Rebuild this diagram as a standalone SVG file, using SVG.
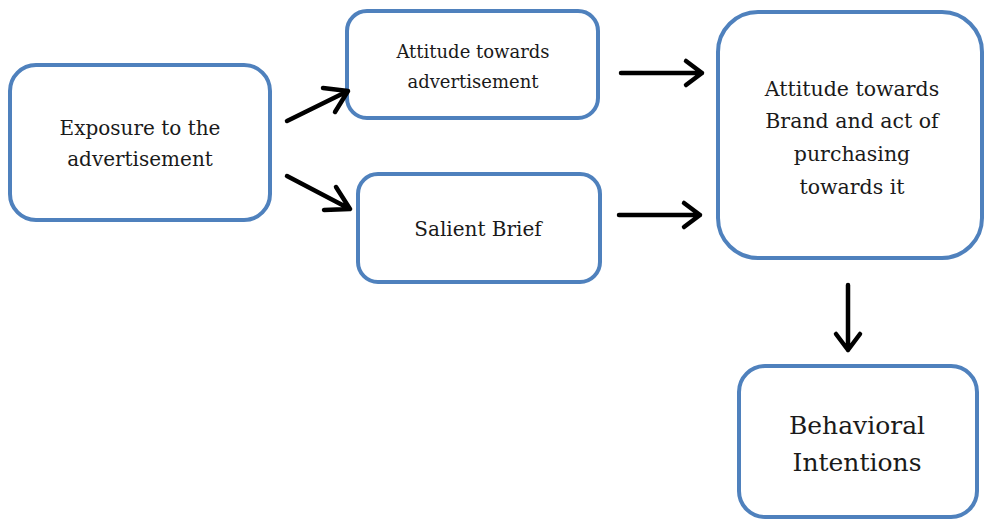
<svg xmlns="http://www.w3.org/2000/svg" width="984" height="520" viewBox="0 0 984 520">
<defs>
<style>
.box{fill:#fff;stroke:#4F81BD;stroke-width:4}
.t{font-family:"DejaVu Serif","Liberation Serif",serif;fill:#1a1a1a;text-anchor:middle}
.c{stroke:#000;stroke-width:4.5;fill:none;stroke-linecap:round;stroke-linejoin:round}
</style>
</defs>
<rect width="984" height="520" fill="#fff"/>
<g id="n1"><rect class="box" x="10" y="65" width="260" height="155" rx="26"/>
<text class="t" font-size="20"><tspan x="140" y="135">Exposure to the</tspan><tspan x="140" y="166">advertisement</tspan></text></g>
<g id="n2"><rect class="box" x="347" y="11" width="251" height="107" rx="20"/>
<text class="t" font-size="18"><tspan x="473" y="58">Attitude towards</tspan><tspan x="473" y="88">advertisement</tspan></text></g>
<g id="n3"><rect class="box" x="358" y="174" width="242" height="108" rx="20"/>
<text class="t" font-size="20"><tspan x="478" y="236">Salient Brief</tspan></text></g>
<g id="n4"><rect class="box" x="718" y="12" width="264" height="246" rx="40"/>
<text class="t" font-size="20.5"><tspan x="852" y="96">Attitude towards</tspan><tspan x="852" y="128">Brand and act of</tspan><tspan x="852" y="161">purchasing</tspan><tspan x="852" y="194">towards it</tspan></text></g>
<g id="n5"><rect class="box" x="739" y="366" width="238" height="151" rx="26"/>
<text class="t" font-size="25"><tspan x="857" y="434">Behavioral</tspan><tspan x="857" y="471">Intentions</tspan></text></g>
<g id="connectors">
<path class="c" d="M287 121 L348 91 M323 88 L348 91 L335 112"/>
<path class="c" d="M287 176 L350 209 M336 187 L350 209 L324 210"/>
<path class="c" d="M621 73 L702 73 M686 61 L702 73 L686 85"/>
<path class="c" d="M619 215 L700 215 M684 203 L700 215 L684 227"/>
<path class="c" d="M848 285 L848 350 M836 334 L848 350 L860 334"/>
</g>
</svg>
